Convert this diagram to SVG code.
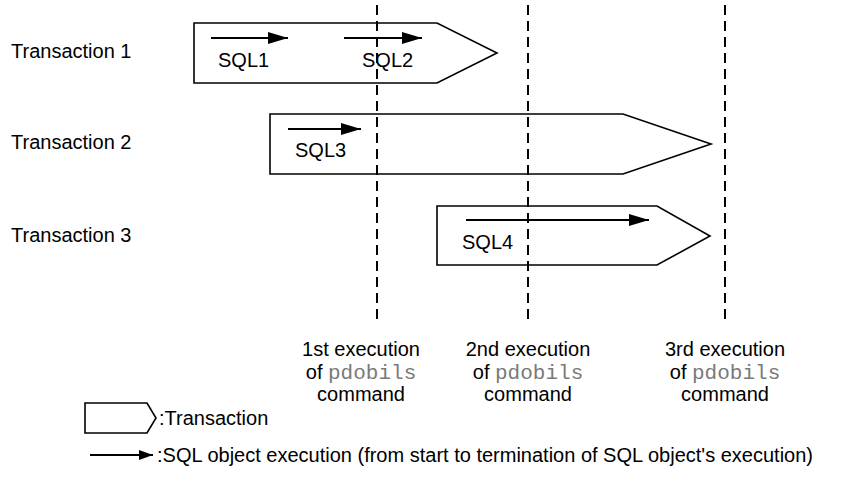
<svg xmlns="http://www.w3.org/2000/svg" width="841" height="477" viewBox="0 0 841 477">
  <style>
    .lbl { font-family: "Liberation Sans", Arial, sans-serif; font-size: 20px; fill: #000; }
    .mono { font-family: "Liberation Mono", "Courier New", monospace; font-size: 21px; fill: #7a7a7a; }
    .txn { fill: #fff; stroke: #000; stroke-width: 1.6; stroke-linejoin: miter; }
    .exec { stroke: #000; stroke-width: 2; fill: none; marker-end: url(#head); }
    .cut { stroke: #000; stroke-width: 2; stroke-dasharray: 10 6; fill: none; }
  </style>
  <defs>
    <marker id="head" markerUnits="userSpaceOnUse" markerWidth="20" markerHeight="12" refX="20" refY="6" orient="auto">
      <path d="M0,0 L20,6 L0,12 Z" fill="#000"/>
    </marker>
    <marker id="headSmall" markerUnits="userSpaceOnUse" markerWidth="14" markerHeight="10" refX="14" refY="5" orient="auto">
      <path d="M0,0 L14,5 L0,10 Z" fill="#000"/>
    </marker>
  </defs>
  <rect width="841" height="477" fill="#fff"/>

  <!-- row labels -->
  <text class="lbl" x="11" y="58">Transaction 1</text>
  <text class="lbl" x="11" y="149">Transaction 2</text>
  <text class="lbl" x="11" y="242">Transaction 3</text>

  <!-- transactions -->
  <g id="transaction1">
    <path class="txn" d="M194,23 H437 L497,53 L437,83 H194 Z"/>
    <text class="lbl" x="218" y="67">SQL1</text>
    <text class="lbl" x="362" y="67">SQL2</text>
  </g>
  <g id="transaction2">
    <path class="txn" d="M270,114 H623 L711,144 L623,174 H270 Z"/>
    <text class="lbl" x="295" y="157">SQL3</text>
  </g>
  <g id="transaction3">
    <path class="txn" d="M437,206 H657 L710,236 L657,265 H437 Z"/>
    <text class="lbl" x="462" y="249">SQL4</text>
  </g>

  <!-- pdobils execution points -->
  <g id="cutoffs">
    <line class="cut" x1="377" y1="5" x2="377" y2="325"/>
    <line class="cut" x1="528" y1="5" x2="528" y2="325"/>
    <line class="cut" x1="725" y1="5" x2="725" y2="325"/>
  </g>

  <!-- SQL executions -->
  <g id="connectors">
    <line class="exec" x1="211" y1="38" x2="288" y2="38"/>
    <line class="exec" x1="344" y1="38" x2="422" y2="38"/>
    <line class="exec" x1="288" y1="129" x2="361" y2="129"/>
    <line class="exec" x1="466" y1="220" x2="649" y2="220"/>
  </g>

  <!-- captions under the dashed lines -->
  <g id="caption1">
    <text class="lbl" x="361" y="356" text-anchor="middle">1st execution</text>
    <text class="lbl" x="361" y="379" text-anchor="middle">of <tspan class="mono">pdobils</tspan></text>
    <text class="lbl" x="361" y="401" text-anchor="middle">command</text>
  </g>
  <g id="caption2">
    <text class="lbl" x="528" y="356" text-anchor="middle">2nd execution</text>
    <text class="lbl" x="528" y="379" text-anchor="middle">of <tspan class="mono">pdobils</tspan></text>
    <text class="lbl" x="528" y="401" text-anchor="middle">command</text>
  </g>
  <g id="caption3">
    <text class="lbl" x="725" y="356" text-anchor="middle">3rd execution</text>
    <text class="lbl" x="725" y="379" text-anchor="middle">of <tspan class="mono">pdobils</tspan></text>
    <text class="lbl" x="725" y="401" text-anchor="middle">command</text>
  </g>

  <!-- legend -->
  <g id="legend">
    <path class="txn" d="M85,403 H147 L156,418 L147,433 H85 Z"/>
    <text class="lbl" x="159" y="425">:Transaction</text>
    <line x1="90" y1="455" x2="153" y2="455" stroke="#000" stroke-width="2" marker-end="url(#headSmall)"/>
    <text class="lbl" x="157" y="462">:SQL object execution (from start to termination of SQL object's execution)</text>
  </g>
</svg>
